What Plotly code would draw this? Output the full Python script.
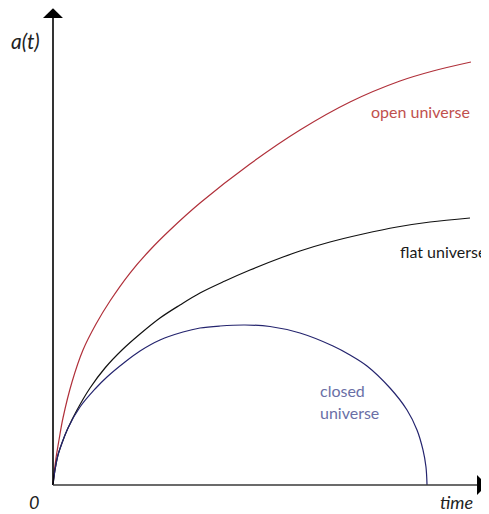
import plotly.graph_objects as go

# Values (time axis ~0..10, a(t) axis ~0..11, arbitrary units)
open_t = [0, 0.023, 0.069, 0.138, 0.230, 0.438, 0.691, 0.991, 1.313, 1.774, 2.235, 2.696, 3.387, 4.539, 5.691, 6.843, 7.995, 8.756, 9.631]
open_a = [0, 0.253, 0.621, 1.036, 1.542, 2.371, 3.107, 3.705, 4.235, 4.879, 5.409, 5.869, 6.490, 7.388, 8.170, 8.815, 9.298, 9.528, 9.735]

flat_t = [0, 0.046, 0.115, 0.207, 0.346, 0.553, 0.853, 1.198, 1.590, 2.005, 2.465, 2.926, 3.387, 3.963, 4.539, 5.300, 5.691, 6.382, 7.143, 7.926, 8.687, 9.608]
flat_a = [0, 0.345, 0.690, 0.967, 1.312, 1.726, 2.232, 2.693, 3.107, 3.475, 3.843, 4.143, 4.419, 4.695, 4.948, 5.247, 5.386, 5.593, 5.777, 5.938, 6.053, 6.145]

closed_t = [0, 0.046, 0.115, 0.207, 0.346, 0.622, 0.968, 1.244, 1.659, 2.005, 2.465, 2.995, 3.387, 3.848, 4.424, 5.000, 5.691, 6.452, 6.843, 7.235, 7.765, 8.157, 8.387, 8.525, 8.594, 8.618]
closed_a = [0, 0.345, 0.690, 0.967, 1.312, 1.795, 2.209, 2.486, 2.831, 3.084, 3.337, 3.521, 3.613, 3.659, 3.682, 3.648, 3.498, 3.199, 2.992, 2.739, 2.232, 1.726, 1.266, 0.806, 0.414, 0]

labels = {"open": "open universe", "flat": "flat universe", "closed": "closed", "closed2": "universe"}
axis_labels = {"y": "a(t)", "x": "time", "origin": "0"}

# page has an 8px body margin, so the figure is 481x506 and ranges are set accordingly
X_RANGE = [-1.0369, 10.0461]
Y_RANGE = [-0.6674, 10.978]

fig = go.Figure()
line_style = dict(width=1.2, shape="spline", smoothing=1.0)
fig.add_trace(go.Scatter(x=open_t, y=open_a, mode="lines", line=dict(color="#b0303a", **line_style), hoverinfo="skip"))
fig.add_trace(go.Scatter(x=flat_t, y=flat_a, mode="lines", line=dict(color="#111111", **line_style), hoverinfo="skip"))
fig.add_trace(go.Scatter(x=closed_t, y=closed_a, mode="lines", line=dict(color="#24246e", **line_style), hoverinfo="skip"))

# axes with arrowheads
y_top = 10.748
y_tip = 10.975
x_end = 9.77
x_tip = 10.0
hw_x = 0.23
hw_y = 0.23
shapes = [
    dict(type="line", x0=0, y0=0, x1=0, y1=y_top, line=dict(color="#000000", width=1.6), layer="above"),
    dict(type="line", x0=0, y0=0, x1=x_end, y1=0, line=dict(color="#3a3a3a", width=1.6), layer="above"),
    dict(type="path", path=f"M {-hw_x},{y_top} L {hw_x},{y_top} L 0,{y_tip} Z", fillcolor="#000000", line=dict(width=0)),
    dict(type="path", path=f"M {x_end},{-hw_y} L {x_end},{hw_y} L {x_tip},0 Z", fillcolor="#000000", line=dict(width=0)),
]

font_fam = "Lato, Open Sans, sans-serif"
ann = [
    dict(x=-0.645, y=10.24, text=f"<i>{axis_labels['y']}</i>", font=dict(size=21, color="#222222", family=font_fam)),
    dict(x=-0.438, y=-0.39, text=f"<i>{axis_labels['origin']}</i>", font=dict(size=18, color="#222222", family=font_fam)),
    dict(x=9.286, y=-0.39, text=f"<i>{axis_labels['x']}</i>", font=dict(size=18, color="#222222", family=font_fam)),
    dict(x=8.479, y=8.585, text=labels["open"], font=dict(size=16, color="#c0504d", family=font_fam)),
    dict(x=7.949, y=5.363, text=labels["flat"], xanchor="left", font=dict(size=16, color="#1a1a1a", family=font_fam)),
    dict(x=6.106, y=2.186, text=labels["closed"], xanchor="left", font=dict(size=16, color="#6a6fa6", family=font_fam)),
    dict(x=6.106, y=1.680, text=labels["closed2"], xanchor="left", font=dict(size=16, color="#6a6fa6", family=font_fam)),
]
for a in ann:
    a.setdefault("xanchor", "center")
    a.update(showarrow=False, yanchor="middle", xref="x", yref="y")

fig.update_layout(
    width=481, height=506, autosize=False,
    margin=dict(l=0, r=0, t=0, b=0),
    paper_bgcolor="white", plot_bgcolor="white",
    showlegend=False,
    xaxis=dict(range=X_RANGE, visible=False, fixedrange=True),
    yaxis=dict(range=Y_RANGE, visible=False, fixedrange=True),
    shapes=shapes, annotations=ann,
)
fig.write_html("out.html", config={"displayModeBar": False})
